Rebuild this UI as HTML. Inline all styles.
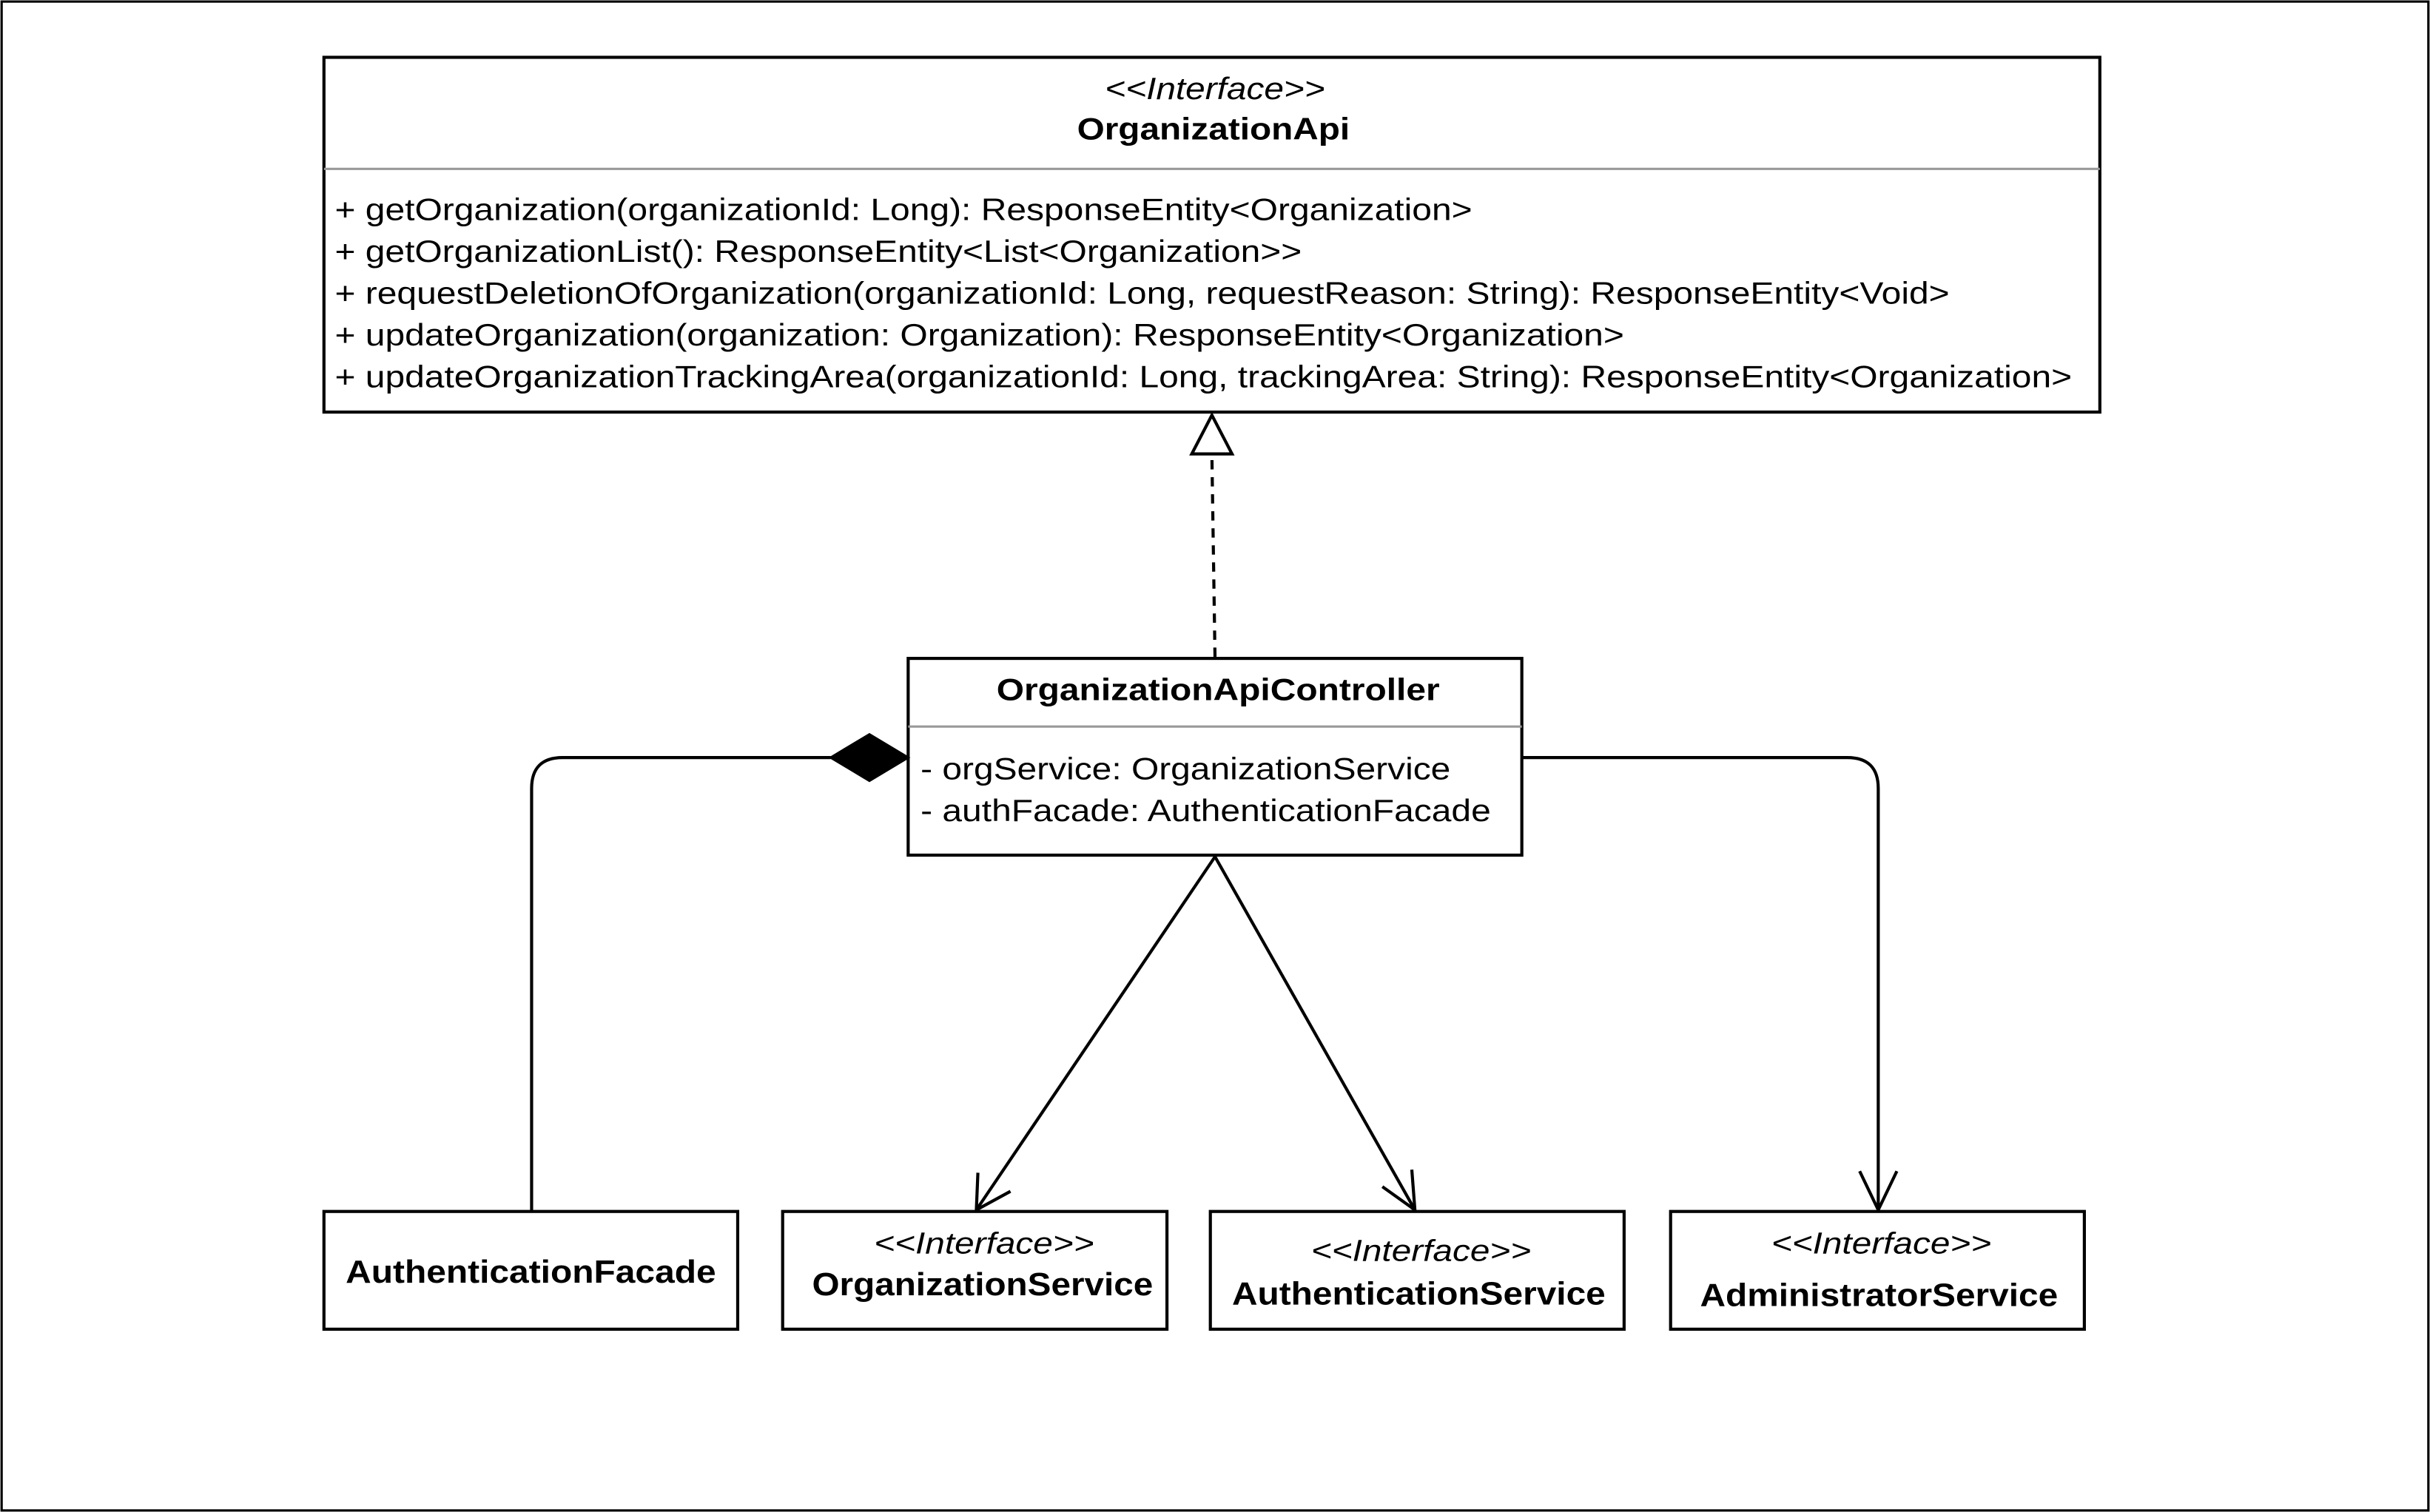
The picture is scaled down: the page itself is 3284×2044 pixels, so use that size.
<!DOCTYPE html>
<html><head><meta charset="utf-8"><style>
html,body{margin:0;padding:0;background:#fff;}
svg{display:block;}
text{font-family:"Liberation Sans",sans-serif;fill:#000;}
</style></head><body>
<svg width="3284" height="2044" viewBox="0 0 1568 976" xmlns="http://www.w3.org/2000/svg">
<rect x="0" y="0" width="1568" height="976" fill="#fff"/>
<rect x="1" y="1" width="1566" height="974" fill="none" stroke="#000" stroke-width="1.5"/>

<rect x="209" y="37" width="1146" height="229" fill="#fff" stroke="#000" stroke-width="2"/>
<line x1="209" y1="109" x2="1355" y2="109" stroke="#999" stroke-width="1.5"/>
<text x="713" y="64" font-size="20" font-style="italic" textLength="142" lengthAdjust="spacingAndGlyphs">&lt;&lt;Interface&gt;&gt;</text>
<text x="695" y="90" font-size="20" font-weight="bold" textLength="176" lengthAdjust="spacingAndGlyphs">OrganizationApi</text>
<g font-size="20" lengthAdjust="spacingAndGlyphs">
<text x="216" y="142" textLength="734" lengthAdjust="spacingAndGlyphs">+ getOrganization(organizationId: Long): ResponseEntity&lt;Organization&gt;</text>
<text x="216" y="169" textLength="624" lengthAdjust="spacingAndGlyphs">+ getOrganizationList(): ResponseEntity&lt;List&lt;Organization&gt;&gt;</text>
<text x="216" y="196" textLength="1042" lengthAdjust="spacingAndGlyphs">+ requestDeletionOfOrganization(organizationId: Long, requestReason: String): ResponseEntity&lt;Void&gt;</text>
<text x="216" y="223" textLength="832" lengthAdjust="spacingAndGlyphs">+ updateOrganization(organization: Organization): ResponseEntity&lt;Organization&gt;</text>
<text x="216" y="250" textLength="1121" lengthAdjust="spacingAndGlyphs">+ updateOrganizationTrackingArea(organizationId: Long, trackingArea: String): ResponseEntity&lt;Organization&gt;</text>
</g>

<line x1="784" y1="424" x2="782" y2="294" stroke="#000" stroke-width="2" stroke-dasharray="6,5"/>
<polygon points="782,268 769,293 795,293" fill="#fff" stroke="#000" stroke-width="2"/>

<rect x="586" y="425" width="396" height="127" fill="#fff" stroke="#000" stroke-width="2"/>
<line x1="586" y1="469" x2="982" y2="469" stroke="#999" stroke-width="1.5"/>
<text x="643" y="452" font-size="20" font-weight="bold" textLength="286" lengthAdjust="spacingAndGlyphs">OrganizationApiController</text>
<text x="594" y="503" font-size="20" textLength="342" lengthAdjust="spacingAndGlyphs">- orgService: OrganizationService</text>
<text x="594" y="530" font-size="20" textLength="368" lengthAdjust="spacingAndGlyphs">- authFacade: AuthenticationFacade</text>

<path d="M536,489 L363,489 Q343,489 343,509 L343,782" fill="none" stroke="#000" stroke-width="2"/>
<polygon points="586,489 561,474 536,489 561,504" fill="#000" stroke="#000" stroke-width="1.5"/>

<path d="M982,489 L1192,489 Q1212,489 1212,509 L1212,781" fill="none" stroke="#000" stroke-width="2"/>
<polyline points="1200,756 1212,781 1224,756" fill="none" stroke="#000" stroke-width="2"/>

<line x1="784" y1="553" x2="630" y2="781" stroke="#000" stroke-width="2"/>
<polyline points="631,757 630,781 652,769" fill="none" stroke="#000" stroke-width="2"/>
<line x1="784" y1="553" x2="913" y2="781" stroke="#000" stroke-width="2"/>
<polyline points="892,766 913,781 911,755" fill="none" stroke="#000" stroke-width="2"/>

<rect x="209" y="782" width="267" height="76" fill="#fff" stroke="#000" stroke-width="2"/>
<text x="223" y="828" font-size="21" font-weight="bold" textLength="239" lengthAdjust="spacingAndGlyphs">AuthenticationFacade</text>

<rect x="505" y="782" width="248" height="76" fill="#fff" stroke="#000" stroke-width="2"/>
<text x="564" y="809" font-size="19.5" font-style="italic" textLength="142" lengthAdjust="spacingAndGlyphs">&lt;&lt;Interface&gt;&gt;</text>
<text x="524" y="836" font-size="21" font-weight="bold" textLength="220" lengthAdjust="spacingAndGlyphs">OrganizationService</text>

<rect x="781" y="782" width="267" height="76" fill="#fff" stroke="#000" stroke-width="2"/>
<text x="846" y="814" font-size="19.5" font-style="italic" textLength="142" lengthAdjust="spacingAndGlyphs">&lt;&lt;Interface&gt;&gt;</text>
<text x="795" y="842" font-size="21" font-weight="bold" textLength="241" lengthAdjust="spacingAndGlyphs">AuthenticationService</text>

<rect x="1078" y="782" width="267" height="76" fill="#fff" stroke="#000" stroke-width="2"/>
<text x="1143" y="809" font-size="19.5" font-style="italic" textLength="142" lengthAdjust="spacingAndGlyphs">&lt;&lt;Interface&gt;&gt;</text>
<text x="1097" y="843" font-size="21" font-weight="bold" textLength="231" lengthAdjust="spacingAndGlyphs">AdministratorService</text>
</svg>
</body></html>
